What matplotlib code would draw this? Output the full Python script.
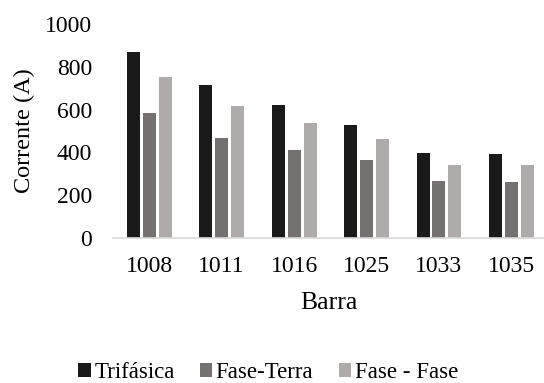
import numpy as np
import matplotlib
matplotlib.use('Agg')
import matplotlib.pyplot as plt

# Corrente de curto-circuito por barra
barras = ['1008', '1011', '1016', '1025', '1033', '1035']
trifasica = [869, 715, 621, 529, 397, 393]
fase_terra = [584, 465, 411, 363, 266, 263]
fase_fase = [752, 617, 537, 461, 343, 341]

plt.rcParams['font.family'] = ['Liberation Serif', 'DejaVu Serif']

fig = plt.figure(figsize=(5.44, 3.83), dpi=100)
ax = fig.add_axes([113 / 544, 1 - 238 / 383, 431 / 544, 214 / 383])

x = np.arange(len(barras))
largura = 0.18
passo = 0.22
ax.bar(x - passo, trifasica, largura, color='#1a1a1a', label='Trifásica')
ax.bar(x, fase_terra, largura, color='#767171', label='Fase-Terra')
ax.bar(x + passo, fase_fase, largura, color='#afabab', label='Fase - Fase')

ax.set_xlim(-0.5, 5.45)
ax.set_ylim(0, 1000)
ax.set_yticks(range(0, 1001, 200))
ax.set_xticks(x)
ax.set_xticklabels(barras)

for lado in ['top', 'right', 'left']:
    ax.spines[lado].set_visible(False)
ax.spines['bottom'].set_color('#d9d9d9')
ax.spines['bottom'].set_linewidth(1.2)
ax.tick_params(axis='both', length=0, labelsize=17)
ax.tick_params(axis='y', pad=15)
ax.tick_params(axis='x', pad=13)

ax.set_ylabel('Corrente (A)', fontsize=17.5, labelpad=7)
ax.set_xlabel('Barra', fontsize=18.5, labelpad=11)

ax.legend(loc='center', bbox_to_anchor=(268 / 544, 1 - 373 / 383),
          bbox_transform=fig.transFigure, ncol=3, frameon=False,
          fontsize=16.5, handlelength=0.55, handleheight=0.55,
          handletextpad=0.15, columnspacing=1.1)

fig.savefig('out.png', dpi=100)
